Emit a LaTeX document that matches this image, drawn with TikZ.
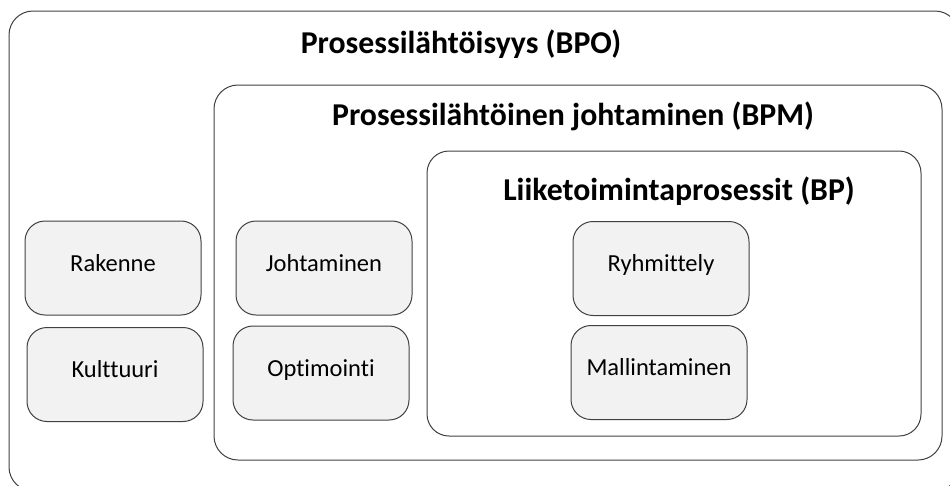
\documentclass[tikz,border=0pt]{standalone}
\usepackage{fontspec}
\setmainfont{Carlito}[Ligatures={NoCommon}]
\definecolor{edge}{HTML}{404040}
\definecolor{itemfill}{HTML}{F2F2F2}
\begin{document}
\begin{tikzpicture}[x=1pt,y=-1pt,
  frame/.style={draw=edge,line width=1pt,rounded corners=24pt,inner sep=0pt},
  item/.style={draw=edge,fill=itemfill,line width=1pt,rounded corners=20pt,
    minimum width=176pt,minimum height=94pt,inner sep=0pt,
    font=\fontsize{24.5}{29}\selectfont,text height=0.644em,text depth=0pt},
  heading/.style={font=\fontsize{31.8}{36}\selectfont\bfseries,anchor=base,inner sep=0pt}]
  \clip (0,0) rectangle (950,485);
  % nested frames
  \node[frame,minimum width=950pt,minimum height=480pt] (bpo) at (484,251) {};
  \node[frame,minimum width=728pt,minimum height=375pt] (bpm) at (578,272.5) {};
  \node[frame,rounded corners=22pt,minimum width=494pt,minimum height=285pt] (bp) at (674,293.5) {};
  % frame headings
  \node[heading] (tbpo) at (461,53) {Prosessilähtöisyys (BPO)};
  \node[heading] (tbpm) at (573,125) {Prosessilähtöinen johtaminen (BPM)};
  \node[heading] (tbp) at (679,200) {Liiketoimintaprosessit (BP)};
  % items
  \node[item] (rak) at (113,268) {Rakenne};
  \node[item] (kul) at (115,374.5) {Kulttuuri};
  \node[item] (joh) at (324,268) {Johtaminen};
  \node[item] (opt) at (321,373) {Optimointi};
  \node[item] (ryh) at (661,268.5) {Ryhmittely};
  \node[item] (mal) at (659,372.5) {Mallintaminen};
\end{tikzpicture}
\end{document}
